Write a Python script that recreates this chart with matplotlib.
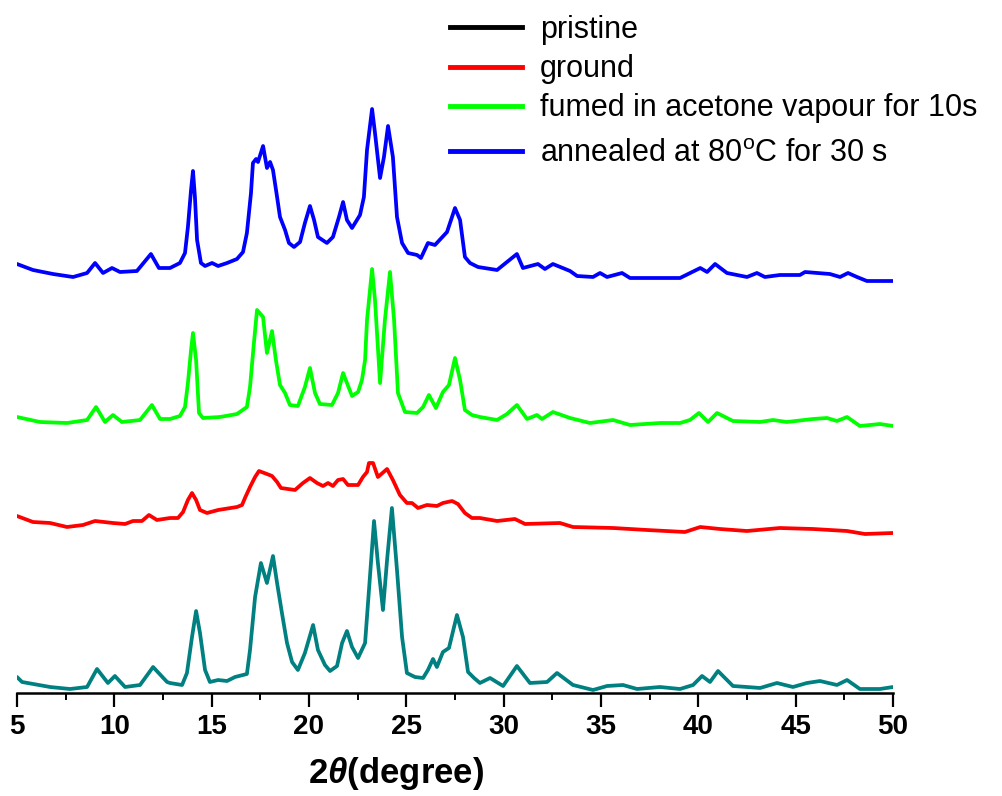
import matplotlib.pyplot as plt
from matplotlib.lines import Line2D
from matplotlib.ticker import MultipleLocator

plt.rcParams["font.family"] = ["Liberation Sans", "DejaVu Sans"]
plt.rcParams["mathtext.fontset"] = "custom"
plt.rcParams["mathtext.rm"] = "Liberation Sans"
plt.rcParams["mathtext.it"] = "Liberation Sans:italic:bold"
plt.rcParams["mathtext.bf"] = "Liberation Sans:bold"

# XRD patterns (2theta in degrees, intensity a.u.)
pristine_2t = [5.00, 5.26, 6.70, 7.72, 8.60, 9.11, 9.67, 10.03, 10.55, 11.32, 11.99, 12.71,
               12.86, 13.48, 13.73, 13.99, 14.20, 14.40, 14.66, 14.91, 15.33, 15.79, 16.20,
               16.81, 16.97, 17.23, 17.53, 17.84, 18.15, 18.36, 18.61, 18.87, 19.13, 19.43,
               19.79, 20.21, 20.46, 20.82, 21.08, 21.44, 21.70, 21.95, 22.21, 22.52, 22.88,
               23.13, 23.34, 23.54, 23.80, 24.01, 24.26, 24.52, 24.78, 25.03, 25.44, 25.86,
               26.11, 26.37, 26.57, 26.88, 27.19, 27.60, 27.91, 28.17, 28.48, 28.78, 29.30,
               29.97, 30.68, 31.35, 32.23, 32.74, 33.56, 34.59, 35.31, 36.13, 36.85, 38.03,
               39.06, 39.73, 40.19, 40.60, 41.01, 41.78, 42.50, 43.17, 44.04, 44.86, 45.58,
               46.25, 47.12, 47.64, 48.30, 49.33, 50.00]
pristine_i = [16, 11, 6, 4, 6, 24, 10, 17, 6, 8, 26, 11,
              10, 8, 20, 56, 82, 60, 23, 11, 13, 12, 16,
              19, 43, 96, 130, 110, 137, 110, 80, 50, 31, 23,
              40, 68, 43, 28, 22, 27, 50, 62, 46, 35, 50,
              116, 172, 130, 83, 133, 185, 123, 56, 20, 16, 15,
              23, 34, 26, 41, 45, 78, 56, 21, 15, 10, 15,
              7, 27, 10, 11, 20, 8, 3, 7, 8, 4, 6,
              4, 8, 17, 11, 22, 7, 6, 5, 10, 6, 10,
              12, 8, 13, 4, 4, 6]

ground_2t = [5.00, 5.82, 6.70, 7.57, 8.39, 9.01, 9.93, 10.55, 10.96, 11.42, 11.78, 12.19,
             12.86, 13.27, 13.53, 13.78, 13.99, 14.20, 14.40, 14.76, 15.33, 16.30, 16.56,
             16.71, 16.97, 17.23, 17.43, 17.84, 18.10, 18.36, 18.56, 19.28, 19.69, 20.05,
             20.41, 20.72, 20.98, 21.23, 21.49, 21.75, 22.00, 22.52, 22.77, 22.98, 23.08,
             23.29, 23.54, 24.01, 24.31, 24.67, 25.03, 25.29, 25.60, 26.06, 26.57, 26.88,
             27.35, 27.65, 28.01, 28.37, 28.78, 29.66, 30.58, 31.10, 32.89, 33.56, 35.62,
             37.36, 39.31, 40.10, 41.11, 42.50, 44.19, 45.89, 47.64, 48.56, 50.00]
ground_i = [22, 16, 15, 11, 13, 17, 15, 14, 17, 17, 23, 18,
            20, 20, 26, 38, 45, 38, 28, 25, 28, 31, 33,
            40, 51, 61, 67, 64, 62, 56, 50, 48, 55, 60,
            55, 52, 55, 52, 58, 59, 53, 53, 61, 66, 75,
            75, 61, 69, 58, 43, 35, 35, 30, 33, 32, 35,
            37, 34, 25, 20, 20, 17, 19, 14, 15, 11, 10,
            8, 6, 11, 9, 7, 10, 9, 7, 4, 5]

fumed_2t = [5.00, 6.18, 7.57, 8.60, 9.06, 9.52, 9.93, 10.39, 11.32, 11.93, 12.35, 12.86,
            13.37, 13.63, 13.78, 13.94, 14.04, 14.20, 14.35, 14.55, 15.43, 16.30, 16.81,
            16.97, 17.17, 17.33, 17.64, 17.84, 18.10, 18.30, 18.51, 18.77, 19.02, 19.43,
            19.79, 20.05, 20.31, 20.56, 21.18, 21.49, 21.75, 21.95, 22.21, 22.52, 22.72,
            22.88, 22.98, 23.24, 23.39, 23.65, 23.90, 24.16, 24.37, 24.57, 24.93, 25.55,
            25.86, 26.16, 26.52, 26.88, 27.19, 27.50, 27.76, 28.01, 28.37, 28.78, 29.66,
            30.17, 30.68, 31.20, 31.71, 31.97, 32.53, 33.41, 34.43, 35.62, 36.49, 38.03,
            39.06, 39.57, 40.03, 40.50, 40.96, 41.78, 43.17, 43.84, 44.55, 45.89, 46.61,
            47.12, 47.64, 48.30, 49.33, 50.00]
fumed_i = [11, 6, 5, 8, 21, 6, 13, 6, 8, 23, 9, 9,
           12, 21, 45, 78, 95, 68, 15, 10, 11, 14, 21,
           41, 85, 118, 111, 75, 97, 68, 43, 35, 23, 22,
           41, 60, 35, 24, 23, 35, 55, 45, 32, 36, 48,
           68, 108, 159, 128, 45, 108, 156, 108, 35, 16, 15,
           21, 33, 20, 36, 43, 70, 48, 18, 13, 11, 8,
           14, 23, 9, 13, 9, 16, 10, 5, 8, 3, 5,
           5, 8, 15, 6, 15, 7, 6, 8, 6, 9, 10,
           7, 11, 2, 4, 2]

annealed_2t = [5.00, 5.82, 6.85, 7.88, 8.60, 9.01, 9.42, 9.88, 10.29, 11.16, 11.88, 12.29,
               12.86, 13.37, 13.63, 13.78, 13.94, 14.04, 14.14, 14.25, 14.45, 14.66, 15.02,
               15.33, 15.79, 16.30, 16.61, 16.81, 17.02, 17.12, 17.28, 17.38, 17.64, 17.84,
               18.00, 18.15, 18.36, 18.51, 18.77, 18.97, 19.23, 19.54, 19.79, 20.05, 20.26,
               20.46, 20.92, 21.23, 21.54, 21.75, 21.95, 22.21, 22.62, 22.82, 22.98, 23.24,
               23.39, 23.65, 23.85, 24.06, 24.31, 24.52, 24.78, 25.09, 25.55, 25.75, 26.11,
               26.47, 27.09, 27.50, 27.76, 28.01, 28.27, 28.68, 29.66, 30.68, 30.99, 31.76,
               32.12, 32.53, 33.41, 33.77, 34.59, 34.95, 35.31, 36.08, 36.49, 38.18, 39.06,
               40.10, 40.45, 40.86, 41.47, 42.50, 43.01, 43.42, 44.19, 45.22, 45.48, 46.76,
               47.28, 47.69, 48.15, 48.66, 50.00]
annealed_i = [19, 13, 9, 6, 10, 20, 10, 15, 11, 12, 29, 15,
              15, 20, 30, 56, 93, 112, 86, 43, 20, 17, 20,
              17, 20, 24, 31, 50, 90, 120, 124, 121, 137, 115,
              121, 113, 86, 66, 53, 40, 36, 41, 60, 77, 63,
              46, 40, 46, 66, 81, 63, 55, 68, 86, 133, 174,
              150, 105, 126, 157, 126, 66, 40, 30, 28, 25, 40,
              38, 51, 75, 63, 26, 20, 16, 13, 29, 15, 19,
              14, 19, 12, 7, 6, 10, 6, 10, 5, 5, 5,
              15, 11, 19, 10, 6, 10, 6, 8, 8, 11, 9,
              6, 10, 6, 2, 2]

labels = ["pristine", "ground", "fumed in acetone vapour for 10s",
          r"annealed at 80$^{\mathrm{o}}$C for 30 s"]
offsets = [0, 155, 265, 410]
line_colors = ["#008080", "#ff0000", "#00ff00", "#0000ff"]
legend_colors = ["#000000", "#ff0000", "#00ff00", "#0000ff"]

fig = plt.figure(figsize=(10.03, 7.96), dpi=100)
ax = fig.add_axes([17 / 1003, 103 / 796, 876 / 1003, 693 / 796])

series = [(pristine_2t, pristine_i), (ground_2t, ground_i),
          (fumed_2t, fumed_i), (annealed_2t, annealed_i)]
for (x, y), off, c in zip(series, offsets, line_colors):
    ax.plot(x, [v + off for v in y], color=c, lw=2.7,
            solid_joinstyle="round", solid_capstyle="round")

ax.set_xlim(5, 50)
ax.set_ylim(0, 693)
for s in ("left", "top", "right"):
    ax.spines[s].set_visible(False)
ax.spines["bottom"].set_linewidth(1.8)
ax.set_yticks([])
ax.xaxis.set_major_locator(MultipleLocator(5))
ax.xaxis.set_minor_locator(MultipleLocator(2.5))
ax.tick_params(axis="x", which="major", direction="out", length=10, width=1.6,
               labelsize=20, pad=5)
ax.tick_params(axis="x", which="minor", direction="out", length=5, width=1.4)
for t in ax.get_xticklabels():
    t.set_fontweight("bold")

fig.text(396 / 1003, 1 - 773 / 796, r"2$\theta$(degree)", fontsize=25,
         fontweight="bold", ha="center", va="center")

# legend: last entry (with superscript) sits a little further down
handles = [Line2D([], [], color=c, lw=3.5) for c in legend_colors]
leg_kw = dict(loc="upper left", frameon=False, fontsize=22, borderpad=0,
              borderaxespad=0, handlelength=2.35, handletextpad=0.6, labelspacing=0.3)
leg1 = fig.legend(handles[:3], labels[:3], bbox_to_anchor=(450 / 1003, 0.981), **leg_kw)
fig.legend(handles[3:], labels[3:], bbox_to_anchor=(450 / 1003, 0.826), **leg_kw)

fig.savefig("out.png", dpi=100)
